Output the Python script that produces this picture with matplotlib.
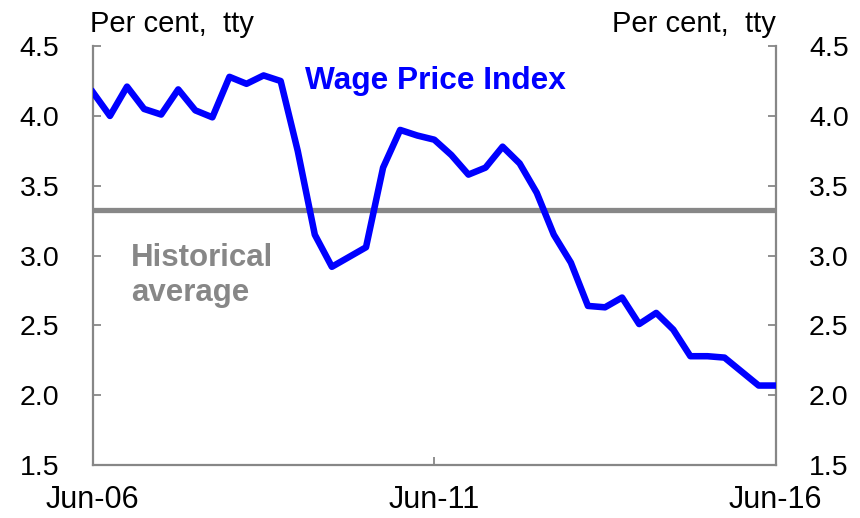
import matplotlib
matplotlib.use("Agg")
import matplotlib.pyplot as plt

plt.rcParams['font.family'] = ['Liberation Sans', 'DejaVu Sans']

# quarterly, Jun-06 to Jun-16, per cent year-on-year
wpi = [4.17, 4.00, 4.21, 4.05, 4.01, 4.19, 4.04, 3.99, 4.28, 4.23,
       4.29, 4.25, 3.75, 3.15, 2.92, 2.99, 3.06, 3.63, 3.90, 3.86,
       3.83, 3.72, 3.58, 3.63, 3.78, 3.66, 3.45, 3.15, 2.95, 2.64,
       2.63, 2.70, 2.51, 2.59, 2.47, 2.28, 2.28, 2.27, 2.17, 2.07,
       2.07]
hist_avg = 3.33
x_ticks = [0, 20, 40]
x_labels = ['Jun-06', 'Jun-11', 'Jun-16']
y_ticks = [1.5, 2.0, 2.5, 3.0, 3.5, 4.0, 4.5]

grey = '#878787'
blue = '#0000ff'

fig = plt.figure(figsize=(8.6, 5.18), dpi=100)
ax = fig.add_axes([0.108, 0.102, 0.794, 0.809])

ax.axhline(hist_avg, color=grey, lw=3.8, zorder=2)
ax.plot(range(len(wpi)), wpi, color=blue, lw=4.7, zorder=3)

ax.set_xlim(0, len(wpi) - 1)
ax.set_ylim(1.5, 4.5)
ax.set_xticks(x_ticks)
ax.set_xticklabels(x_labels, fontsize=22)
ax.set_yticks(y_ticks)
ax.set_yticklabels([f'{v:.1f}' for v in y_ticks], fontsize=20.5)

ax.tick_params(axis='y', direction='in', length=6, width=1.3, color=grey,
               pad=24, left=True, right=True, labelleft=True, labelright=True)
ax.tick_params(axis='x', direction='in', length=6, width=1.3, color=grey, pad=14)

ax.spines['top'].set_visible(False)
for s in ['left', 'right', 'bottom']:
    ax.spines[s].set_color(grey)
    ax.spines[s].set_linewidth(1.6)

fig.text(0.105, 0.938, 'Per cent,  tty', fontsize=21, ha='left', va='baseline')
fig.text(0.902, 0.938, 'Per cent,  tty', fontsize=21, ha='right', va='baseline')

ax.text(0.31, 0.9165, 'Wage Price Index', transform=ax.transAxes, color=blue,
        fontsize=22.8, fontweight='bold', ha='left', va='center')
ax.text(0.056, 0.475, 'Historical', transform=ax.transAxes, color=grey,
        fontsize=22.5, fontweight='bold', ha='left', va='baseline')
ax.text(0.056, 0.391, 'average', transform=ax.transAxes, color=grey,
        fontsize=22.5, fontweight='bold', ha='left', va='baseline')

fig.savefig('out.png', dpi=100, facecolor='white')
